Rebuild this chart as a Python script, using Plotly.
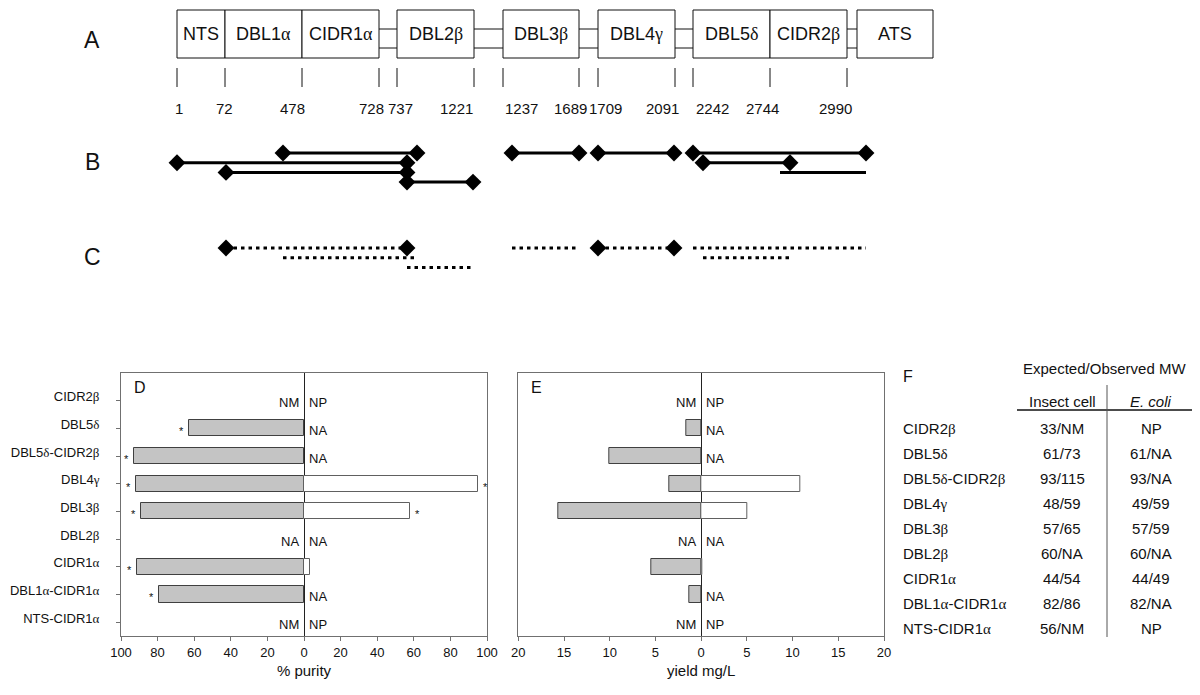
import plotly.graph_objects as go

FONT = "Liberation Sans"
SERIF = "Liberation Serif"

# ---------------- Panel A: domain architecture (schematic) ----------------
boundary_aa = [1, 72, 478, 728, 737, 1221, 1237, 1689, 1709, 2091, 2242, 2744, 2990]
boundary_pos = [177, 225, 302, 379, 397, 474, 503, 579, 598, 675, 693, 770, 847]
aa_label_pos = [179, 224, 292, 371, 400, 456, 521, 570, 605, 662, 712, 762, 835]
domain_names = ["NTS", "DBL1α", "CIDR1α", "DBL2β", "DBL3β", "DBL4γ", "DBL5δ", "CIDR2β", "ATS"]
domain_start = [177, 225, 302, 397, 503, 598, 693, 770, 857]
domain_end = [225, 302, 379, 474, 579, 675, 770, 847, 933]
linker_start = [379, 474, 579, 675, 847]
linker_end = [397, 503, 598, 693, 857]

# ---------------- Panel B: constructs expressed in insect cells ----------------
b_start = [283, 177, 226, 407, 512, 598, 693, 703, 780]
b_end = [417, 407, 407, 473, 579, 674, 866, 790, 866]
b_row = [0, 1, 2, 3, 0, 0, 0, 1, 2]
b_marker = [True, True, True, True, True, True, True, True, False]

# ---------------- Panel C: constructs expressed in E. coli ----------------
c_start = [226, 283, 407, 512, 598, 693, 703]
c_end = [407, 417, 473, 578, 674, 866, 789]
c_row = [0, 1, 2, 0, 0, 0, 1]
c_marker = [True, False, False, False, True, False, False]

# ---------------- Panels D/E/F (bottom to top) ----------------
constructs = ["NTS-CIDR1α", "DBL1α-CIDR1α", "CIDR1α", "DBL2β", "DBL3β",
              "DBL4γ", "DBL5δ-CIDR2β", "DBL5δ", "CIDR2β"]
purity_insect = [None, 79, 91, None, 89, 92, 93, 63, None]
purity_ecoli = [None, None, 3.3, None, 58, 95, None, None, None]
star_insect = [False, True, True, False, True, True, True, True, False]
star_ecoli = [False, False, False, False, True, True, False, False, False]
note_insect = ["NM", "", "", "NA", "", "", "", "", "NM"]
note_ecoli = ["NP", "NA", "", "NA", "", "", "NA", "NA", "NP"]
yield_insect = [None, 1.3, 5.4, None, 15.6, 3.5, 10.0, 1.6, None]
yield_ecoli = [None, None, 0.15, None, 5.1, 10.8, None, None, None]
mw_insect = ["56/NM", "82/86", "44/54", "60/NA", "57/65", "48/59", "93/115", "61/73", "33/NM"]
mw_ecoli = ["NP", "82/NA", "44/49", "60/NA", "57/59", "49/59", "93/NA", "61/NA", "NP"]
purity_ticks = [-100, -80, -60, -40, -20, 0, 20, 40, 60, 80, 100]
yield_ticks = [-20, -15, -10, -5, 0, 5, 10, 15, 20]


def greek(s):
    out = ""
    for ch in s:
        if ch in "αβγδ":
            out += '<span style="font-family:%s">%s</span>' % (SERIF, ch)
        else:
            out += ch
    return out


fig = go.Figure()
shapes = []
annotations = []
INK = "#111111"

# ---- A: boxes, linkers, ticks, numbers ----
BOX_TOP, BOX_BOT = 10, 58
for name, x0, x1 in zip(domain_names, domain_start, domain_end):
    shapes.append(dict(type="rect", xref="x", yref="y", x0=x0, x1=x1, y0=BOX_TOP, y1=BOX_BOT,
                       line=dict(color=INK, width=1), fillcolor="white", layer="above"))
    annotations.append(dict(xref="x", yref="y", x=(x0 + x1) / 2, y=(BOX_TOP + BOX_BOT) / 2,
                            text=greek(name), showarrow=False,
                            font=dict(family=FONT, size=18, color=INK)))
for x0, x1 in zip(linker_start, linker_end):
    for ly in (29, 48):
        shapes.append(dict(type="line", xref="x", yref="y", x0=x0, x1=x1, y0=ly, y1=ly,
                           line=dict(color=INK, width=1)))
for pos, aa, lx in zip(boundary_pos, boundary_aa, aa_label_pos):
    shapes.append(dict(type="line", xref="x", yref="y", x0=pos, x1=pos, y0=68, y1=87,
                       line=dict(color=INK, width=1)))
    annotations.append(dict(xref="x", yref="y", x=lx, y=108, text=str(aa), showarrow=False,
                            font=dict(family=FONT, size=15, color=INK)))

# ---- B / C tracks ----
ROW_STEP = 9.7


def track(starts, ends, rows, markers, base, dash):
    lx, ly, mx, my = [], [], [], []
    for s, e, r, m in zip(starts, ends, rows, markers):
        y = base + r * ROW_STEP
        lx += [s, e, None]
        ly += [y, y, None]
        if m:
            mx += [s, e]
            my += [y, y]
    fig.add_trace(go.Scatter(x=lx, y=ly, mode="lines", xaxis="x", yaxis="y",
                             line=dict(color="black", width=3, dash=dash),
                             hoverinfo="skip", showlegend=False))
    fig.add_trace(go.Scatter(x=mx, y=my, mode="markers", xaxis="x", yaxis="y",
                             marker=dict(symbol="diamond", size=13, color="black",
                                         line=dict(width=0)),
                             hoverinfo="skip", showlegend=False))


track(b_start, b_end, b_row, b_marker, 153, "solid")
track(c_start, c_end, c_row, c_marker, 248, "3.5px,4px")

for letter, ly in (("A", 40), ("B", 162), ("C", 257)):
    annotations.append(dict(xref="x", yref="y", x=92, y=ly, text=letter, showarrow=False,
                            font=dict(family=FONT, size=23, color=INK)))

# ---- D and E bar charts ----
cat_pos = list(range(len(constructs)))
GRAY = "#c4c4c4"
BAR_W = 0.58


def bar_panel(xa, ya, left_vals, right_vals, left_star, right_star):
    fig.add_trace(go.Bar(y=cat_pos, x=[None if v is None else -v for v in left_vals],
                         orientation="h", width=BAR_W, xaxis=xa, yaxis=ya,
                         marker=dict(color=GRAY, line=dict(color="#404040", width=1)),
                         hoverinfo="skip", showlegend=False))
    fig.add_trace(go.Bar(y=cat_pos, x=right_vals, orientation="h", width=BAR_W,
                         xaxis=xa, yaxis=ya,
                         marker=dict(color="white", line=dict(color="#606060", width=1)),
                         hoverinfo="skip", showlegend=False))
    for i in cat_pos:
        if note_insect[i]:
            annotations.append(dict(xref=xa, yref=ya, x=0, y=i, text=note_insect[i],
                                    xanchor="right", xshift=-3, yshift=-2, showarrow=False,
                                    font=dict(family=FONT, size=13, color=INK)))
        if note_ecoli[i]:
            annotations.append(dict(xref=xa, yref=ya, x=0, y=i, text=note_ecoli[i],
                                    xanchor="left", xshift=3, yshift=-2, showarrow=False,
                                    font=dict(family=FONT, size=13, color=INK)))
        if left_star is not None and left_star[i]:
            annotations.append(dict(xref=xa, yref=ya, x=-left_vals[i], y=i, text="*",
                                    xanchor="right", xshift=-3, yshift=-3, showarrow=False,
                                    font=dict(family=FONT, size=11, color=INK)))
        if right_star is not None and right_star[i]:
            annotations.append(dict(xref=xa, yref=ya, x=right_vals[i], y=i, text="*",
                                    xanchor="left", xshift=3, yshift=-3, showarrow=False,
                                    font=dict(family=FONT, size=11, color=INK)))


bar_panel("x2", "y2", purity_insect, purity_ecoli, star_insect, star_ecoli)
bar_panel("x3", "y3", yield_insect, yield_ecoli, None, None)

annotations.append(dict(xref="x2 domain", yref="y2 domain", x=0.03, y=0.985, text="D",
                        xanchor="left", yanchor="top", showarrow=False,
                        font=dict(family=FONT, size=16, color=INK)))
annotations.append(dict(xref="x3 domain", yref="y3 domain", x=0.03, y=0.985, text="E",
                        xanchor="left", yanchor="top", showarrow=False,
                        font=dict(family=FONT, size=16, color=INK)))

# ---- F table ----
ROW_TOP, ROW_STEP_F = 428, 25.1
n = len(constructs)
for i in cat_pos:
    y = ROW_TOP + (n - 1 - i) * ROW_STEP_F
    annotations.append(dict(xref="x", yref="y", x=901, y=y, text=greek(constructs[i]),
                            xanchor="left", showarrow=False,
                            font=dict(family=FONT, size=15, color=INK)))
    annotations.append(dict(xref="x", yref="y", x=1062, y=y, text=mw_insect[i],
                            showarrow=False, font=dict(family=FONT, size=15, color=INK)))
    annotations.append(dict(xref="x", yref="y", x=1151, y=y, text=mw_ecoli[i],
                            showarrow=False, font=dict(family=FONT, size=15, color=INK)))
annotations.append(dict(xref="x", yref="y", x=901, y=376, text="F", xanchor="left",
                        showarrow=False, font=dict(family=FONT, size=16, color=INK)))
annotations.append(dict(xref="x", yref="y", x=1104, y=368, text="Expected/Observed MW",
                        showarrow=False, font=dict(family=FONT, size=15, color=INK)))
annotations.append(dict(xref="x", yref="y", x=1062, y=401, text="Insect cell",
                        showarrow=False, font=dict(family=FONT, size=15, color=INK)))
annotations.append(dict(xref="x", yref="y", x=1151, y=401, text="<i>E. coli</i>",
                        showarrow=False, font=dict(family=FONT, size=15, color=INK)))
shapes.append(dict(type="line", xref="x", yref="y", x0=1017, x1=1192, y0=410, y1=410,
                   line=dict(color=INK, width=1.5)))
shapes.append(dict(type="line", xref="x", yref="y", x0=1107, x1=1107, y0=385, y1=637,
                   line=dict(color="#555555", width=1)))

# ---------------- layout ----------------
Y_DOM = [1 - 636 / 695, 1 - 373 / 695]
axis_common = dict(showline=True, mirror=True, linecolor="#707070", linewidth=1,
                   showgrid=False, zeroline=True, zerolinecolor="#222222", zerolinewidth=1,
                   ticks="outside", ticklen=4, tickcolor="#707070", automargin=False,
                   tickfont=dict(family=FONT, size=13, color=INK))

fig.update_layout(
    width=1200, height=695,
    margin=dict(l=0, r=0, t=0, b=0, autoexpand=False),
    paper_bgcolor="white", plot_bgcolor="rgba(0,0,0,0)",
    barmode="overlay", bargap=0,
    shapes=shapes, annotations=annotations,
    showlegend=False,
    xaxis=dict(domain=[0, 1], range=[0, 1200], visible=False, fixedrange=True,
               automargin=False),
    yaxis=dict(domain=[0, 1], range=[695, 0], visible=False, fixedrange=True,
               automargin=False),
    xaxis2=dict(axis_common, domain=[121 / 1200, 487 / 1200], anchor="y2",
                range=[-100, 100], tickvals=purity_ticks,
                ticktext=[str(abs(t)) for t in purity_ticks],
                title=dict(text="% purity", standoff=6,
                           font=dict(family=FONT, size=15, color=INK))),
    yaxis2=dict(axis_common, domain=Y_DOM, anchor="x2", range=[-0.5, 9],
                zeroline=False, tickvals=cat_pos,
                ticktext=[greek(c) for c in constructs],
                ticklabelstandoff=14, ticklabelshift=-4,
                tickfont=dict(family=FONT, size=13, color=INK)),
    xaxis3=dict(axis_common, domain=[518.3 / 1200, 884 / 1200], anchor="y3",
                range=[-20, 20], tickvals=yield_ticks,
                ticktext=[str(abs(t)) for t in yield_ticks],
                title=dict(text="yield mg/L", standoff=6,
                           font=dict(family=FONT, size=15, color=INK))),
    yaxis3=dict(axis_common, domain=Y_DOM, anchor="x3", range=[-0.5, 9],
                zeroline=False, ticks="", showticklabels=False),
)

fig.write_html(
    "out.html",
    config={"displayModeBar": False},
    post_script="document.body.style.margin='0';document.body.style.padding='0';"
                "document.body.style.overflow='hidden';",
)
